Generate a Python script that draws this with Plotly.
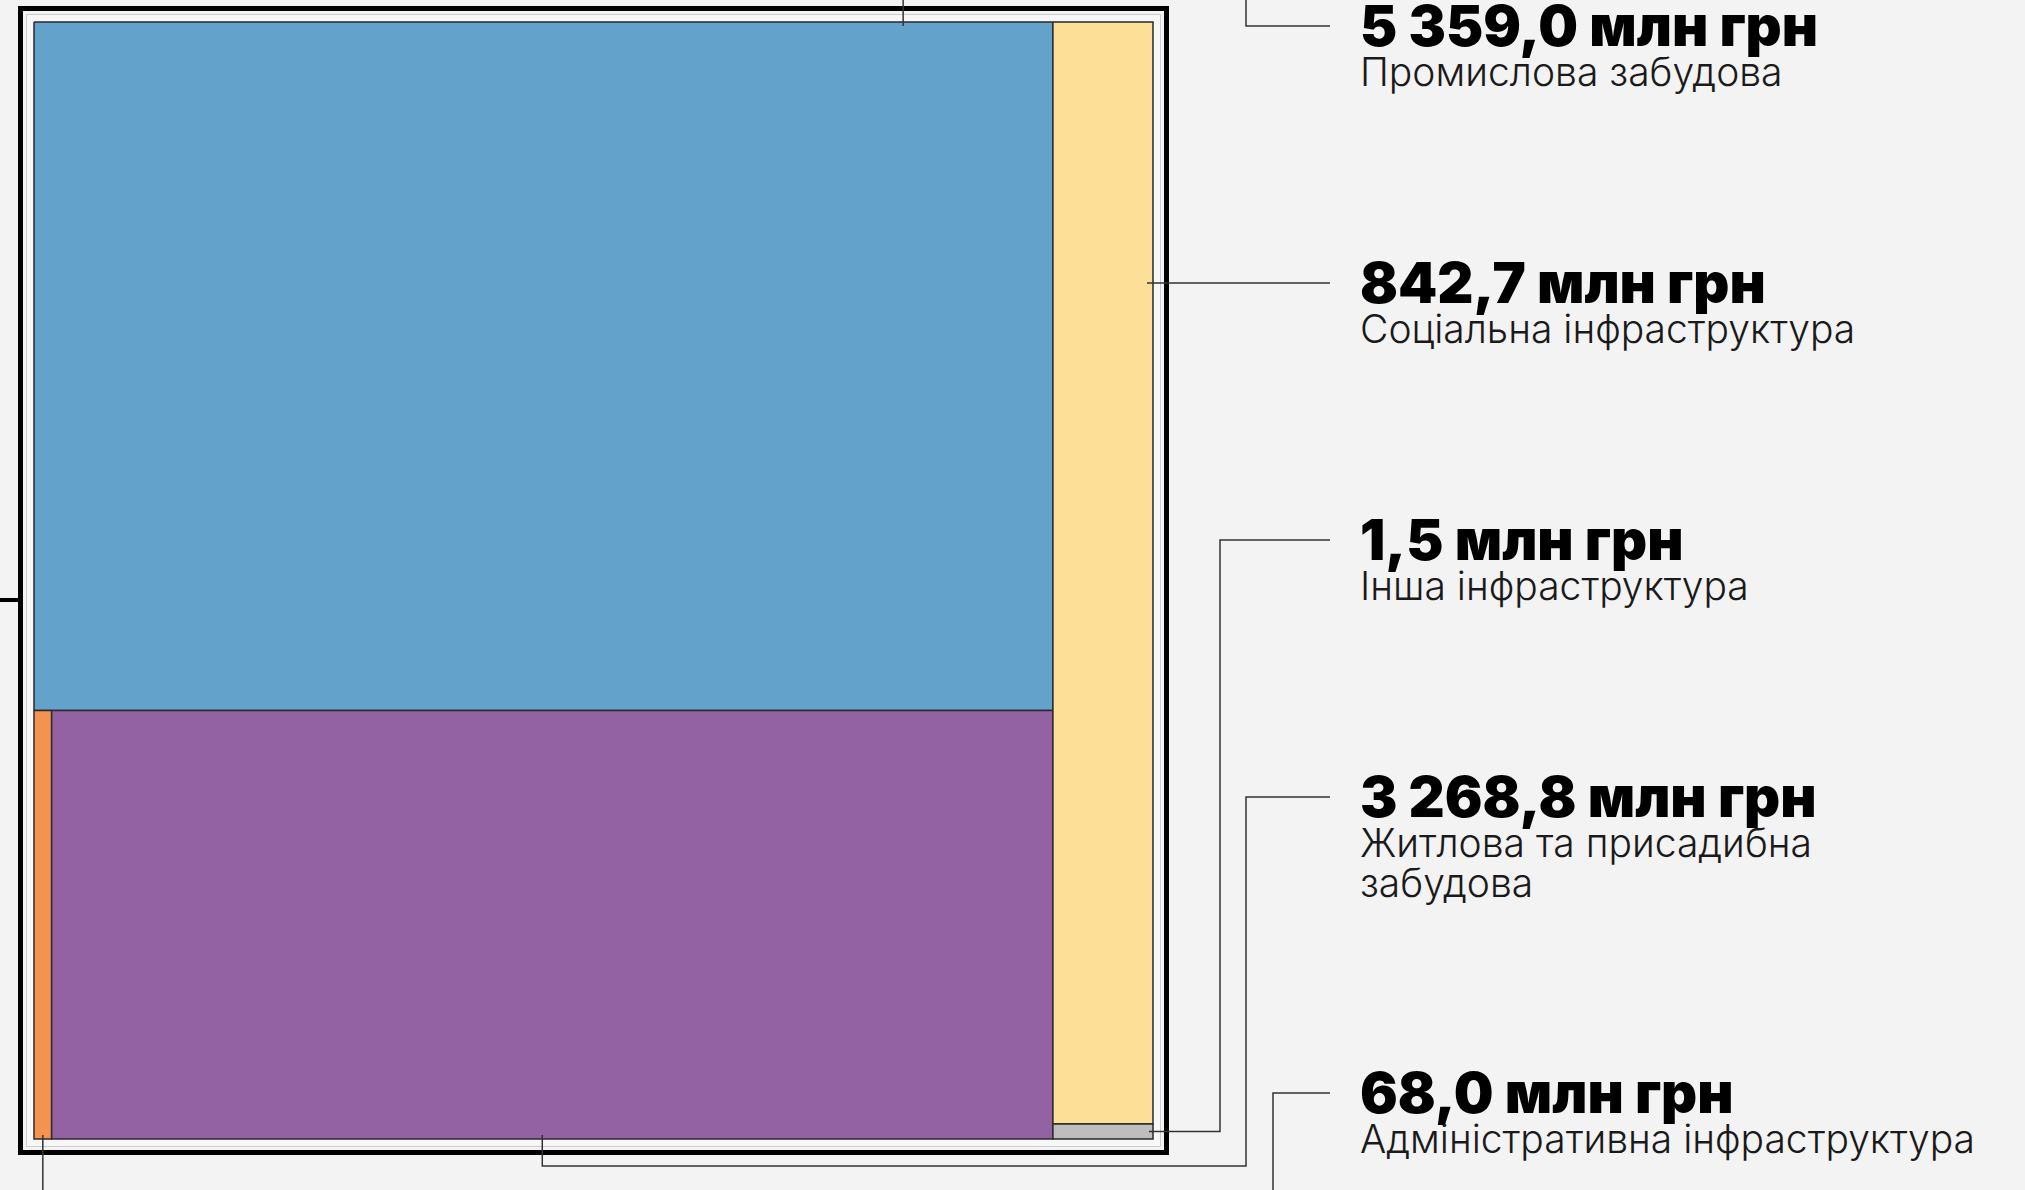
import plotly.graph_objects as go

# ---- data ----
categories = ["Промислова забудова", "Житлова та присадибна забудова", "Соціальна інфраструктура",
              "Адміністративна інфраструктура", "Інша інфраструктура"]
values = [5359.0, 3268.8, 842.7, 68.0, 1.5]
value_labels = ["5 359,0 млн грн", "3 268,8 млн грн", "842,7 млн грн", "68,0 млн грн", "1,5 млн грн"]
label_lines = [["Промислова забудова"], ["Житлова та присадибна", "забудова"], ["Соціальна інфраструктура"],
               ["Адміністративна інфраструктура"], ["Інша інфраструктура"]]
colors = ["#63a2cb", "#9362a3", "#fedf98", "#f4934f", "#bebebe"]

# ---- layout constants (pixels) ----
W, H = 2025, 1190
TX0, TX1, TY0, TY1 = 34, 1153, 22, 1139
MIN_SHARE = 0.0012  # minimum visible area share for tiny cells

total = sum(values)
eff = [max(v, MIN_SHARE * total) for v in values]
iB, iP, iY, iO, iG = 0, 1, 2, 3, 4

# treemap layout: left group [blue / (orange | purple)], right group [yellow / gray]
left_sum = eff[iB] + eff[iP] + eff[iO]
right_sum = eff[iY] + eff[iG]
xs = TX0 + (TX1 - TX0) * left_sum / (left_sum + right_sum)
yb = TY0 + (TY1 - TY0) * eff[iB] / left_sum
xo = TX0 + (xs - TX0) * eff[iO] / (eff[iO] + eff[iP]) * 0.85
yg = TY0 + (TY1 - TY0) * eff[iY] / right_sum
rects = {
    iB: (TX0, xs, TY0, yb),
    iO: (TX0, xo, yb, TY1),
    iP: (xo, xs, yb, TY1),
    iY: (xs, TX1, TY0, yg),
    iG: (xs, TX1, yg, TY1),
}

fig = go.Figure()
BG = "#f3f3f3"

shapes = []
# outer frame
pad = 13.5
shapes.append(dict(type="rect", xref="x", yref="y", x0=TX0 - pad + 6, x1=TX1 + pad - 6, y0=TY0 - pad + 6, y1=TY1 + pad - 6,
                   line=dict(color="#cdcdcd", width=1), fillcolor="#f7f7f7", layer="below"))
shapes.append(dict(type="rect", xref="x", yref="y", x0=TX0 - pad, x1=TX1 + pad, y0=TY0 - pad, y1=TY1 + pad,
                   line=dict(color="#000000", width=5), fillcolor="rgba(0,0,0,0)", layer="below"))
# left tick
shapes.append(dict(type="line", xref="x", yref="y", x0=0, x1=TX0 - pad, y0=600, y1=600,
                   line=dict(color="#000000", width=4)))

for i in [iB, iO, iP, iY, iG]:
    x0, x1, y0, y1 = rects[i]
    fig.add_trace(go.Scatter(x=[x0, x1, x1, x0, x0], y=[y0, y0, y1, y1, y0], mode="lines",
                             fill="toself", fillcolor=colors[i], line=dict(color="#2a2a2a", width=1.5),
                             hoverinfo="text", text=f"{categories[i]}: {value_labels[i]}", showlegend=False))

# label block positions
LX = 1358
LEND = 1330
val_y = {iB: 26, iY: 283, iG: 540, iP: 797, iO: 1093}

def leader(pts):
    fig.add_trace(go.Scatter(x=[p[0] for p in pts], y=[p[1] for p in pts], mode="lines",
                             line=dict(color="#333333", width=1.5), hoverinfo="skip", showlegend=False))

bx0, bx1, by0, by1 = rects[iB]
leader([(bx0 + (bx1 - bx0) * 0.853, by0 + 4), (bx0 + (bx1 - bx0) * 0.853, 0)])
leader([(1246, 0), (1246, val_y[iB]), (LEND, val_y[iB])])
yx0, yx1, yy0, yy1 = rects[iY]
leader([(yx1 - 6, val_y[iY]), (LEND, val_y[iY])])
gx0, gx1, gy0, gy1 = rects[iG]
gyc = (gy0 + gy1) / 2
leader([(gx1 - 4, gyc), (1220, gyc), (1220, val_y[iG]), (LEND, val_y[iG])])
px0, px1, py0, py1 = rects[iP]
pxc = (px0 + px1) / 2 - 10
leader([(pxc, py1 - 4), (pxc, 1166), (1246, 1166), (1246, val_y[iP]), (LEND, val_y[iP])])
ox0, ox1, oy0, oy1 = rects[iO]
leader([((ox0 + ox1) / 2, oy1 - 4), ((ox0 + ox1) / 2, H)])
leader([(1273, H), (1273, val_y[iO]), (LEND, val_y[iO])])

annotations = []
for i in [iB, iY, iG, iP, iO]:
    annotations.append(dict(x=LX, y=val_y[i], xref="x", yref="y", xanchor="left", yanchor="middle",
                            text=value_labels[i], showarrow=False,
                            font=dict(family="Inter", size=56, color="#000000", weight=900)))
    for k, line in enumerate(label_lines[i]):
        annotations.append(dict(x=LX, y=val_y[i] + 45.5 + 40 * k, xref="x", yref="y", xanchor="left", yanchor="middle",
                                text=line, showarrow=False,
                                font=dict(family="Inter", size=39, color="#1a1a1a", weight=300)))

fig.update_layout(
    width=W, height=H, margin=dict(l=0, r=0, t=0, b=0),
    paper_bgcolor=BG, plot_bgcolor=BG,
    xaxis=dict(range=[0, W], visible=False, fixedrange=True),
    yaxis=dict(range=[H, 0], visible=False, fixedrange=True),
    shapes=shapes, annotations=annotations, showlegend=False,
)

fig.write_html("out.html", config={"displayModeBar": False},
               post_script="document.body.style.margin='0';document.body.style.overflow='hidden';")
